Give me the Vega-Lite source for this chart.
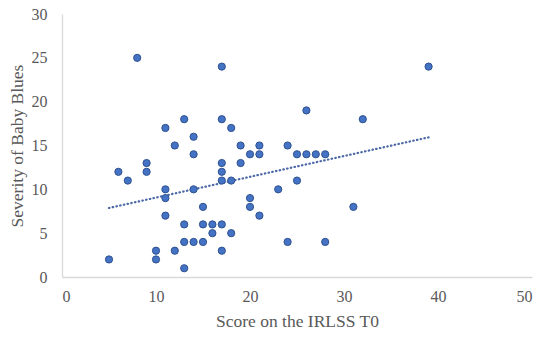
{
  "$schema": "https://vega.github.io/schema/vega-lite/v6.json",
  "autosize": {"type": "none"},
  "width": 470,
  "height": 263,
  "padding": {"left": 62, "top": 14, "right": 18, "bottom": 63},
  "background": "white",
  "config": {
    "view": {"stroke": null},
    "font": "Liberation Serif",
    "axis": {
      "grid": false,
      "ticks": false,
      "domainColor": "#d9d9d9",
      "domainWidth": 1.3,
      "labelColor": "#595959",
      "titleColor": "#595959",
      "labelFont": "Liberation Serif",
      "titleFont": "Liberation Serif",
      "labelFontSize": 16,
      "titleFontSize": 17.5,
      "titleFontWeight": "normal"
    }
  },
  "data": {
    "values": [
      {"x": 5, "y": 2}, {"x": 6, "y": 12}, {"x": 7, "y": 11}, {"x": 8, "y": 25},
      {"x": 9, "y": 13}, {"x": 9, "y": 12}, {"x": 10, "y": 3}, {"x": 10, "y": 2},
      {"x": 11, "y": 17}, {"x": 11, "y": 10}, {"x": 11, "y": 9}, {"x": 11, "y": 7},
      {"x": 12, "y": 15}, {"x": 12, "y": 3},
      {"x": 13, "y": 18}, {"x": 13, "y": 6}, {"x": 13, "y": 4}, {"x": 13, "y": 1},
      {"x": 14, "y": 16}, {"x": 14, "y": 14}, {"x": 14, "y": 10}, {"x": 14, "y": 4},
      {"x": 15, "y": 8}, {"x": 15, "y": 6}, {"x": 15, "y": 4},
      {"x": 16, "y": 6}, {"x": 16, "y": 5},
      {"x": 17, "y": 24}, {"x": 17, "y": 18}, {"x": 17, "y": 13}, {"x": 17, "y": 12}, {"x": 17, "y": 11}, {"x": 17, "y": 6}, {"x": 17, "y": 3},
      {"x": 18, "y": 17}, {"x": 18, "y": 11}, {"x": 18, "y": 5},
      {"x": 19, "y": 15}, {"x": 19, "y": 13},
      {"x": 20, "y": 14}, {"x": 20, "y": 9}, {"x": 20, "y": 8},
      {"x": 21, "y": 15}, {"x": 21, "y": 14}, {"x": 21, "y": 7},
      {"x": 23, "y": 10},
      {"x": 24, "y": 15}, {"x": 24, "y": 4},
      {"x": 25, "y": 14}, {"x": 25, "y": 11},
      {"x": 26, "y": 19}, {"x": 26, "y": 14},
      {"x": 27, "y": 14},
      {"x": 28, "y": 14}, {"x": 28, "y": 4},
      {"x": 31, "y": 8}, {"x": 32, "y": 18}, {"x": 39, "y": 24}
    ]
  },
  "layer": [
    {
      "transform": [{"regression": "y", "on": "x"}],
      "mark": {"type": "line", "color": "#4a68a8", "strokeDash": [0.5, 3.3], "strokeCap": "round", "strokeWidth": 2.2},
      "encoding": {
        "x": {"field": "x", "type": "quantitative"},
        "y": {"field": "y", "type": "quantitative"}
      }
    },
    {
      "mark": {"type": "point", "filled": true, "fill": "#4472c4", "stroke": "#2f528f", "strokeWidth": 1, "size": 52, "opacity": 1},
      "encoding": {
        "x": {
          "field": "x", "type": "quantitative",
          "scale": {"domain": [0, 50], "nice": false},
          "axis": {"values": [0, 10, 20, 30, 40, 50], "title": "Score on the IRLSS T0", "labelPadding": 11, "titlePadding": 8}
        },
        "y": {
          "field": "y", "type": "quantitative",
          "scale": {"domain": [0, 30], "nice": false},
          "axis": {"values": [0, 5, 10, 15, 20, 25, 30], "title": "Severity of Baby Blues", "labelPadding": 15, "titlePadding": 5}
        }
      }
    }
  ]
}
